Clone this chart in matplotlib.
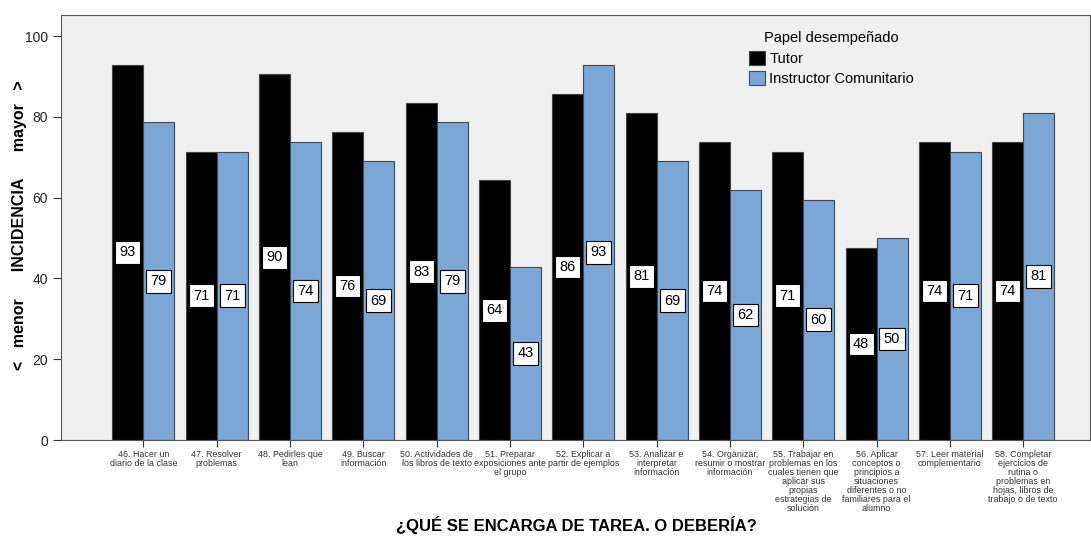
import matplotlib.pyplot as plt
import numpy as np

plt.rcParams['font.family'] = ['Liberation Sans', 'DejaVu Sans']

categories = [
    "46. Hacer un\ndiario de la clase",
    "47. Resolver\nproblemas",
    "48. Pedirles que\nlean",
    "49. Buscar\ninformación",
    "50. Actividades de\nlos libros de texto",
    "51. Preparar\nexposiciones ante\nel grupo",
    "52. Explicar a\npartir de ejemplos",
    "53. Analizar e\ninterpretar\ninformación",
    "54. Organizar,\nresumir o mostrar\ninformación",
    "55. Trabajar en\nproblemas en los\ncuales tienen que\naplicar sus\npropias\nestrategias de\nsolución",
    "56. Aplicar\nconceptos o\nprincipios a\nsituaciones\ndiferentes o no\nfamiliares para el\nalumno",
    "57. Leer material\ncomplementario",
    "58. Completar\nejercicios de\nrutina o\nproblemas en\nhojas, libros de\ntrabajo o de texto",
]
tutor = [92.9, 71.4, 90.5, 76.2, 83.3, 64.3, 85.7, 81.0, 73.8, 71.4, 47.6, 73.8, 73.8]
instructor = [78.6, 71.4, 73.8, 69.0, 78.6, 42.9, 92.9, 69.0, 61.9, 59.5, 50.0, 71.4, 81.0]
series_names = ["Tutor", "Instructor Comunitario"]

fig = plt.figure(figsize=(10.91, 5.36), dpi=100)
ax = fig.add_axes([0.0559, 0.179, 0.9431, 0.793])
ax.set_facecolor("#f0f0f0")

x = np.arange(len(categories))
w = 0.423
ax.bar(x - w / 2, tutor, w, color="black", edgecolor="#444444", linewidth=0.8, label=series_names[0])
ax.bar(x + w / 2, instructor, w, color="#7ba7d6", edgecolor="#3a4a5a", linewidth=0.8, label=series_names[1])

box = dict(boxstyle="square,pad=0.3", facecolor="white", edgecolor="black", linewidth=0.8)
for xs, vals in ((x - w / 2, tutor), (x + w / 2, instructor)):
    for xi, v in zip(xs, vals):
        ax.text(xi, v / 2, f"{v:.0f}", ha="center", va="center", fontsize=10.5, bbox=box)

ax.set_xlim(-1.123, 12.91)
ax.set_ylim(0, 105.2)
ax.set_yticks([0, 20, 40, 60, 80, 100])
ax.tick_params(axis="y", labelsize=10, length=6, color="#333333", labelcolor="#222222")
ax.set_xticks(x)
ax.set_xticklabels(categories, fontsize=6.4, color="#333333", linespacing=1.0)
ax.tick_params(axis="x", length=5, color="#333333", pad=2)
for s in ax.spines.values():
    s.set_color("#555555")
    s.set_linewidth(0.8)

fig.text(0.018, 0.58, "<   menor      INCIDENCIA      mayor   >", rotation=90, ha="center", va="center",
         fontsize=11.5, fontweight="bold")
fig.text(0.528, 0.004, "¿QUÉ SE ENCARGA DE TAREA. O DEBERÍA?", ha="center", va="bottom",
         fontsize=12, fontweight="bold")

ax.legend(title="Papel desempeñado", loc="upper left", bbox_to_anchor=(0.663, 0.975),
          frameon=False, fontsize=10.5, title_fontsize=10.5, handlelength=1.1, handleheight=1.1,
          handletextpad=0.3, labelspacing=0.35, borderaxespad=0)

fig.savefig("out.png", dpi=100)
